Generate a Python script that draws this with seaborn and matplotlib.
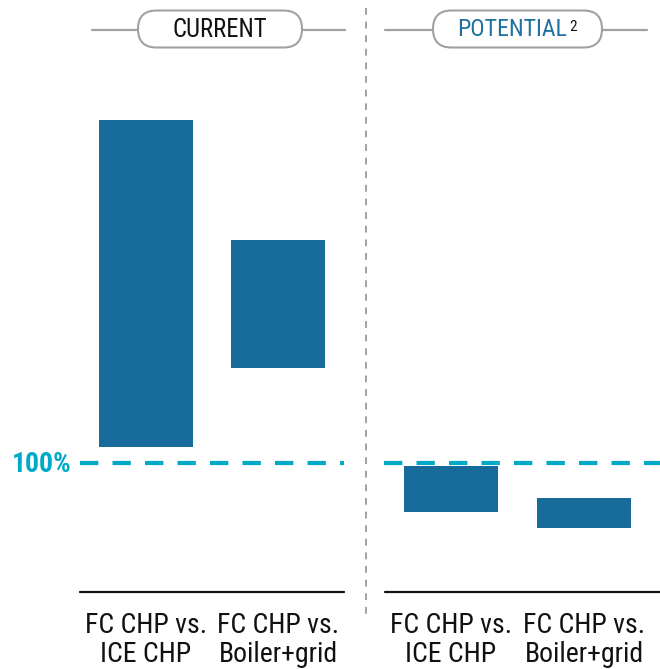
import matplotlib
matplotlib.use("Agg")
import matplotlib.pyplot as plt
from matplotlib.patches import FancyBboxPatch
import seaborn as sns
import pandas as pd

sns.set_style("white")
plt.rcParams['font.family'] = ['Roboto Condensed', 'Liberation Sans', 'DejaVu Sans']

# ---- data (cost relative to reference = 100%) ----
categories = ["FC CHP vs.\nICE CHP", "FC CHP vs.\nBoiler+grid"]
current_low = [108, 147.5]
current_high = [271.5, 211.5]
potential_low = [75.5, 67.5]
potential_high = [98.5, 82.5]
panel_titles = ["CURRENT", "POTENTIAL"]
reference_value = 100

BAR = "#176B9A"
CYAN = "#00A9C8"
GRAY = "#9EA2A6"

W, H = 660, 669
fig = plt.figure(figsize=(W / 100, H / 100), dpi=100)

def fx(px):
    return px / W

def fy(py):
    return (H - py) / H

y_bottom_px, y_top_px = 592, 70
ylim = (35.5, 296.5)

def panel(x0, x1, xmax, low, high):
    ax = fig.add_axes([fx(x0), fy(y_bottom_px), fx(x1) - fx(x0), fy(y_top_px) - fy(y_bottom_px)])
    df = pd.DataFrame({"cat": categories,
                       "height": [h - l for h, l in zip(high, low)],
                       "low": low})
    sns.barplot(data=df, x="cat", y="height", order=categories, color=BAR,
                saturation=1, width=0.71, linewidth=0, ax=ax, bottom=df["low"].values)
    ax.set_xlim(-0.5, xmax)
    ax.set_ylim(*ylim)
    ax.axhline(reference_value, color=CYAN, lw=3, linestyle=(0, (4.4, 3.4)), zorder=3)
    ax.set_axis_off()
    for i, c in enumerate(categories):
        ax.text(i, -0.039, c, transform=ax.get_xaxis_transform(), ha="center", va="top",
                fontsize=20, linespacing=1.08, color="#111111")
    return ax

axL = panel(80, 344, 1.5, current_low, current_high)
axR = panel(384.5, 660, 1.571, potential_low, potential_high)

# overlay for decorations in pixel coordinates
ov = fig.add_axes([0, 0, 1, 1], zorder=-1)
ov.set_xlim(0, W)
ov.set_ylim(H, 0)
ov.set_axis_off()

# baselines
ov.plot([80, 344], [592, 592], color="#111111", lw=1.6)
ov.plot([385, 660], [592, 592], color="#111111", lw=1.6)
# separator
ov.plot([366, 366], [8, 615], color=GRAY, lw=1.4, linestyle=(0, (3.5, 3.5)))

# header pills
def pill(x0, x1, lx0, lx1, title, color, sup=None):
    yc = 29
    ov.plot([lx0, x0], [yc + 1, yc + 1], color=GRAY, lw=1.6)
    ov.plot([x1, lx1], [yc + 1, yc + 1], color=GRAY, lw=1.6)
    hgt = 37
    p = FancyBboxPatch((x0 + hgt / 2, yc), (x1 - x0) - hgt, 0,
                       boxstyle=f"round,pad={hgt/2},rounding_size={hgt/2}",
                       fc="white", ec=GRAY, lw=1.5, zorder=3)
    ov.add_patch(p)
    xc = (x0 + x1) / 2
    if sup:
        t = ov.text(xc - 5, yc + 1, title, ha="center", va="center", fontsize=17.2,
                    color=color, zorder=4)
        ov.annotate(sup, xy=(1, 1), xycoords=t, xytext=(1, -1), textcoords="offset points",
                    ha="left", va="top", fontsize=11, color="#111111", zorder=4)
    else:
        ov.text(xc, yc + 1, title, ha="center", va="center", fontsize=17.8, color=color, zorder=4)

pill(138, 302, 92, 345, panel_titles[0], "#111111")
pill(433, 602, 385, 647, panel_titles[1], "#1F6FA0", sup="2")

# 100% label
fig.text(fx(42), fy(465), f"{reference_value}%", ha="center", va="center",
         fontsize=20, fontweight="bold", color=CYAN)

fig.savefig("out.png", dpi=100)
